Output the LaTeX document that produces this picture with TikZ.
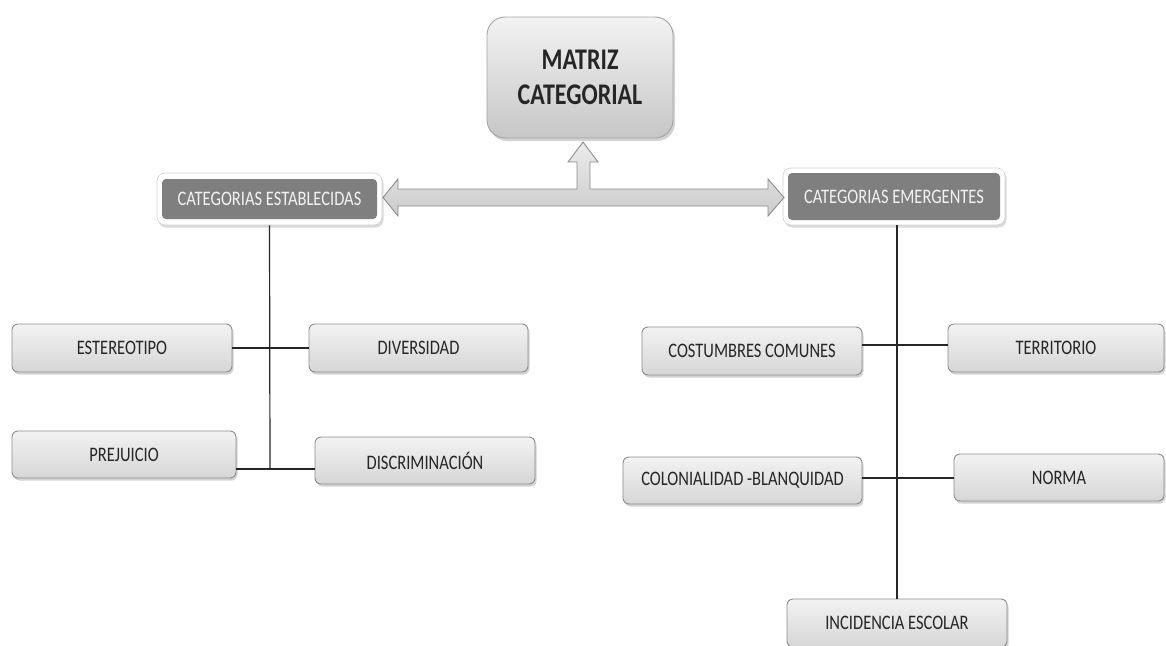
\documentclass[tikz,border=0pt]{standalone}
\usepackage{fontspec}
\setmainfont{Carlito}
\usetikzlibrary{shadows}
\definecolor{linec}{HTML}{262626}
\definecolor{boxedge}{HTML}{8C8C8C}
\definecolor{catfill}{HTML}{7F7F7F}
\definecolor{cattext}{HTML}{F2F2F2}
\newcommand{\stt}[1]{\scalebox{1}[1.25]{#1}}
\tikzset{
  leafbox/.style={draw=boxedge, line width=0.9pt, rounded corners=6pt,
    top color=white!95!black, bottom color=white!84!black,
    drop shadow={shadow xshift=1.5pt, shadow yshift=-2.5pt, opacity=0.35},
    inner sep=0pt, anchor=center, font=\fontsize{16.5}{20}\selectfont, text=linec},
  topbox/.style={draw=boxedge!80, line width=0.9pt, rounded corners=18pt,
    top color=white!95!black, bottom color=white!78!black,
    drop shadow={shadow xshift=2pt, shadow yshift=-3pt, opacity=0.35},
    inner sep=0pt, anchor=center, align=center,
    font=\fontsize{24}{35}\selectfont\bfseries, text=linec},
  catframe/.style={draw=white!82!black, line width=0.6pt, fill=white, rounded corners=8pt,
    drop shadow={shadow xshift=1.5pt, shadow yshift=-2.5pt, opacity=0.3},
    inner sep=0pt, anchor=center},
  catbox/.style={fill=catfill, rounded corners=4pt, inner sep=0pt, anchor=center,
    font=\fontsize{16.5}{20}\selectfont, text=cattext},
  conn/.style={draw=linec, line width=1.2pt},
  bigarrow/.style={draw=boxedge, line width=0.9pt, top color=white!92!black, bottom color=white!80!black}
}
\begin{document}
\begin{tikzpicture}[x=1pt, y=-1pt]
\useasboundingbox (0,0) rectangle (1166,645);

% top box
\node[topbox, minimum width=186pt, minimum height=121pt] (matriz) at (580,77.5)
  {\stt{MATRIZ}\\\stt{CATEGORIAL}};

% category boxes
\node[catframe, minimum width=225pt, minimum height=52pt] (estabf) at (269.5,199) {};
\node[catbox, minimum width=215pt, minimum height=40pt] (estab) at (269.5,199) {\stt{CATEGORIAS ESTABLECIDAS}};
\node[catframe, minimum width=222pt, minimum height=57pt] (emergf) at (894,196.5) {};
\node[catbox, minimum width=212pt, minimum height=47pt] (emerg) at (894,196.5) {\stt{CATEGORIAS EMERGENTES}};

% big arrow
\draw[bigarrow] (383,197.5) -- (398,179) -- (398,189) -- (577,189) -- (577,162) -- (568,162)
  -- (583,142) -- (598,162) -- (590,162) -- (590,189) -- (768,189) -- (768,179)
  -- (784,197.5) -- (768,216) -- (768,206) -- (398,206) -- (398,216) -- cycle;

% leaf boxes
\node[leafbox, minimum width=220pt, minimum height=48pt] (est) at (122,348) {\stt{ESTEREOTIPO}};
\node[leafbox, minimum width=219pt, minimum height=48pt] (div) at (418.5,348) {\stt{DIVERSIDAD}};
\node[leafbox, minimum width=224pt, minimum height=47pt] (prej) at (124,454.5) {\stt{PREJUICIO}};
\node[leafbox, minimum width=220pt, minimum height=47pt] (disc) at (425,460.5) {\stt{DISCRIMINACIÓN}};
\node[leafbox, minimum width=220pt, minimum height=48pt] (cost) at (752,351) {\stt{COSTUMBRES COMUNES}};
\node[leafbox, minimum width=216pt, minimum height=48pt] (terr) at (1056,348) {\stt{TERRITORIO}};
\node[leafbox, minimum width=239pt, minimum height=47pt] (colon) at (742.5,480.5) {\stt{COLONIALIDAD -BLANQUIDAD}};
\node[leafbox, minimum width=210pt, minimum height=47pt] (norma) at (1059,477.5) {\stt{NORMA}};
\node[leafbox, minimum width=220pt, minimum height=48pt] (inc) at (897,623) {\stt{INCIDENCIA ESCOLAR}};

% junction coordinates
\coordinate (jl) at (270,469);
\coordinate (jr1) at (897,345);
\coordinate (jr2) at (897,478);

% connectors
\draw[conn] (estabf.south) -- (jl);
\draw[conn] (est.east) -- (div.west);
\draw[conn] (prej.east |- jl) -- (disc.west |- jl);
\draw[conn] (emergf.south -| inc.north) -- (inc.north);
\draw[conn] (cost.east |- jr1) -- (terr.west |- jr1);
\draw[conn] (colon.east |- jr2) -- (norma.west |- jr2);
\end{tikzpicture}
\end{document}
